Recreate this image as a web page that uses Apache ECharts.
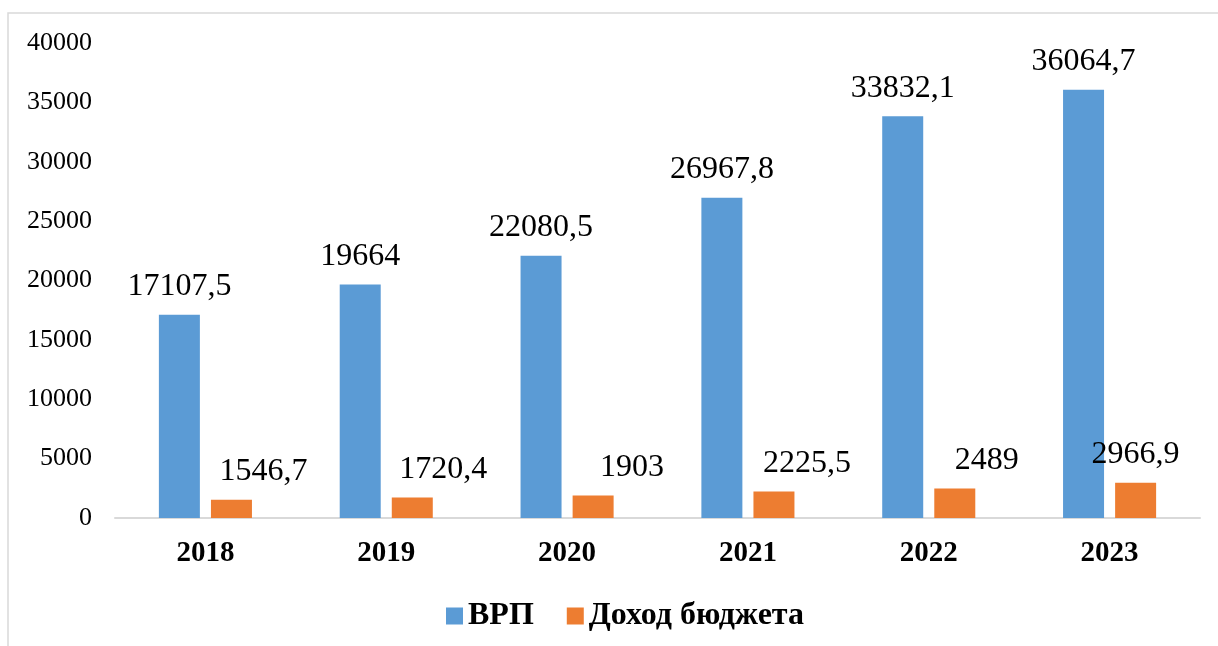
<!DOCTYPE html>
<html>
<head>
<meta charset="utf-8">
<script src="https://cdn.jsdelivr.net/npm/echarts@6/dist/echarts.min.js"></script>
<style>
  html, body { margin: 0; padding: 0; background: #fff; }
  #chart { width: 1218px; height: 646px; }
</style>
</head>
<body>
<div id="chart"></div>
<script>
const years = ["2018", "2019", "2020", "2021", "2022", "2023"];
const grp = [17107.5, 19664, 22080.5, 26967.8, 33832.1, 36064.7];
const budgetIncome = [1546.7, 1720.4, 1903, 2225.5, 2489, 2966.9];
const seriesNames = ["ВРП", "Доход бюджета"];

const serif = "'Times New Roman', 'Liberation Serif', serif";
const fmt = (v) => String(v).replace(".", ",");

// Excel had the orange labels nudged to the right by hand
const budgetLabelShift = [32, 31, 39, 33, 32, 0];

const chart = echarts.init(document.getElementById("chart"));

chart.setOption({
  animation: false,
  textStyle: { fontFamily: serif, color: "#000" },
  graphic: [
    {
      type: "polyline",
      shape: { points: [[8, 646], [8, 13], [1218, 13]] },
      style: { stroke: "#d9d9d9", lineWidth: 1.5, fill: null },
      silent: true,
    },
  ],
  grid: { left: 115, right: 18, top: 43, bottom: 128 },
  legend: {
    left: 441,
    top: 595,
    itemWidth: 17,
    itemHeight: 17,
    itemGap: 33,
    icon: "rect",
    textStyle: { fontFamily: serif, fontWeight: "bold", fontSize: 32, color: "#000" },
    data: seriesNames,
  },
  xAxis: {
    type: "category",
    data: years,
    axisLine: { lineStyle: { color: "#d9d9d9", width: 2 } },
    axisTick: { show: false },
    axisLabel: {
      margin: 21,
      fontFamily: serif,
      fontWeight: "bold",
      fontSize: 29,
      color: "#000",
    },
  },
  yAxis: {
    type: "value",
    min: 0,
    max: 40000,
    interval: 5000,
    axisLine: { show: false },
    axisTick: { show: false },
    splitLine: { show: false },
    axisLabel: {
      margin: 23,
      fontFamily: serif,
      fontSize: 26,
      color: "#000",
      formatter: (v) => String(v),
    },
  },
  series: [
    {
      name: seriesNames[0],
      type: "bar",
      data: grp,
      barWidth: 41,
      barGap: "27%",
      itemStyle: { color: "#5b9bd5" },
      label: {
        show: true,
        position: "top",
        distance: 12,
        fontFamily: serif,
        fontSize: 32,
        color: "#000",
        formatter: (p) => fmt(p.value),
      },
    },
    {
      name: seriesNames[1],
      type: "bar",
      data: budgetIncome.map((v, i) => ({
        value: v,
        label: { offset: [budgetLabelShift[i], 0] },
      })),
      barWidth: 41,
      itemStyle: { color: "#ed7d31" },
      label: {
        show: true,
        position: "top",
        distance: 12,
        fontFamily: serif,
        fontSize: 32,
        color: "#000",
        formatter: (p) => fmt(p.value),
      },
    },
  ],
});
</script>
</body>
</html>
